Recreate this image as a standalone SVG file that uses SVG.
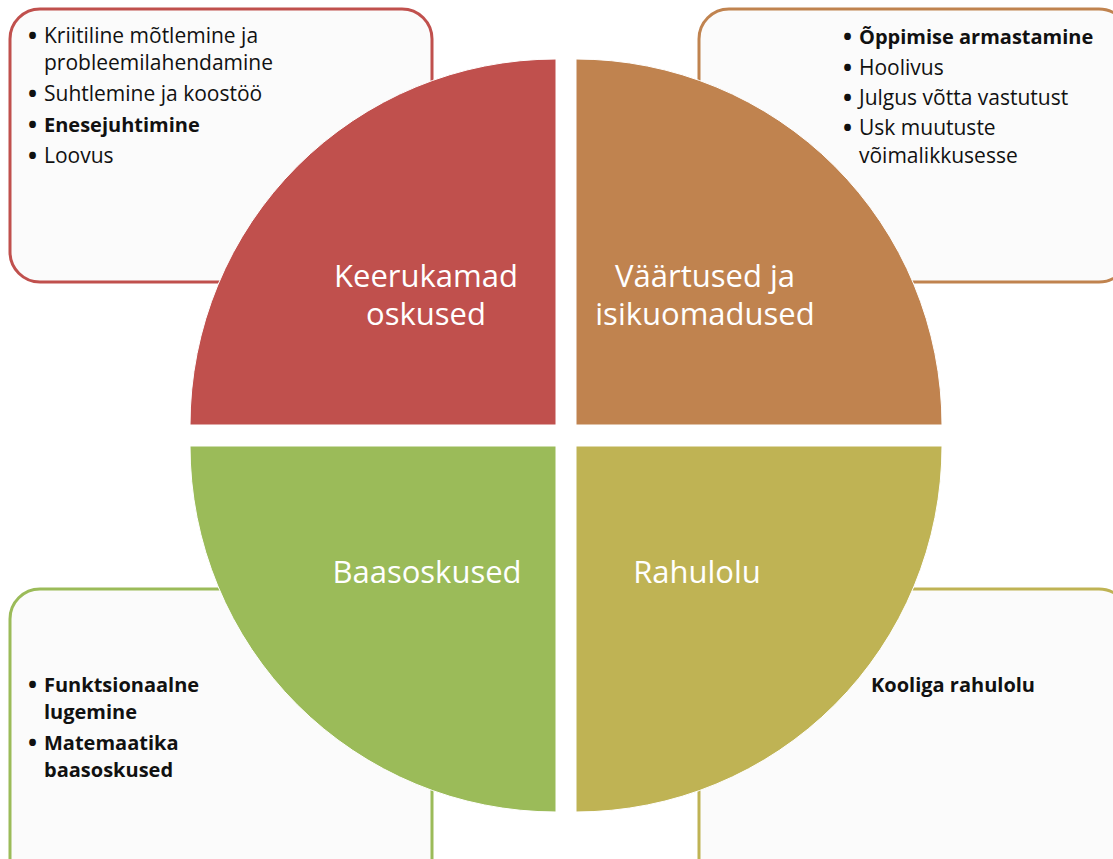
<svg xmlns="http://www.w3.org/2000/svg" width="1113" height="859" viewBox="0 0 1113 859">
<style>
.box{fill:#fbfbfb;stroke-width:3}
.t{font-family:"Open Sans","Liberation Sans",sans-serif;font-size:21px;fill:#111}
.b{font-weight:bold;font-size:20px}
.u{font-family:"Open Sans","Liberation Sans",sans-serif;font-size:24px;fill:#111;font-weight:bold}
.q{font-family:"Open Sans","Liberation Sans",sans-serif;font-size:31px;fill:#fff;text-anchor:middle}
.seg{stroke:#fff;stroke-width:1}
</style>
<rect width="1113" height="859" fill="#fff"/>
<g id="box-tl">
<rect class="box" x="10" y="9" width="422" height="273" rx="30" stroke="#c0504d"/>
<text class="u" x="28" y="44">•</text><text class="t" x="44" y="43">Kriitiline mõtlemine ja</text>
<text class="t" x="44" y="70">probleemilahendamine</text>
<text class="u" x="28" y="102">•</text><text class="t" x="44" y="101">Suhtlemine ja koostöö</text>
<text class="u" x="28" y="133">•</text><text class="t b" x="44" y="132">Enesejuhtimine</text>
<text class="u" x="28" y="164">•</text><text class="t" x="44" y="163">Loovus</text>
</g>
<g id="box-tr">
<rect class="box" x="699" y="9" width="430" height="273" rx="30" stroke="#c0834f"/>
<text class="u" x="843" y="45">•</text><text class="t b" x="859" y="44">Õppimise armastamine</text>
<text class="u" x="843" y="76">•</text><text class="t" x="859" y="75">Hoolivus</text>
<text class="u" x="843" y="106">•</text><text class="t" x="859" y="105">Julgus võtta vastutust</text>
<text class="u" x="843" y="136">•</text><text class="t" x="859" y="135">Usk muutuste</text>
<text class="t" x="859" y="163">võimalikkusesse</text>
</g>
<g id="box-bl">
<rect class="box" x="10" y="589" width="422" height="300" rx="30" stroke="#9bbb59"/>
<text class="u" x="28" y="693">•</text><text class="t b" x="44" y="692">Funktsionaalne</text>
<text class="t b" x="44" y="719">lugemine</text>
<text class="u" x="28" y="751">•</text><text class="t b" x="44" y="750">Matemaatika</text>
<text class="t b" x="44" y="777">baasoskused</text>
</g>
<g id="box-br">
<rect class="box" x="699" y="589" width="430" height="300" rx="30" stroke="#bfb354"/>
<text class="t b" x="871" y="692">Kooliga rahulolu</text>
</g>
<g id="q-red">
<path class="seg" d="M556,425 L190,425 A366,366 0 0 1 556,59 Z" fill="#c0504d"/>
<text class="q" x="426" y="287">Keerukamad</text>
<text class="q" x="426" y="325">oskused</text>
</g>
<g id="q-orange">
<path class="seg" d="M576,425 L576,59 A366,366 0 0 1 942,425 Z" fill="#c0834f"/>
<text class="q" x="705" y="287">Väärtused ja</text>
<text class="q" x="705" y="325">isikuomadused</text>
</g>
<g id="q-green">
<path class="seg" d="M556,446 L556,812 A366,366 0 0 1 190,446 Z" fill="#9bbb59"/>
<text class="q" x="427" y="583">Baasoskused</text>
</g>
<g id="q-olive">
<path class="seg" d="M576,446 L942,446 A366,366 0 0 1 576,812 Z" fill="#bfb354"/>
<text class="q" x="697" y="583">Rahulolu</text>
</g>
<g id="connectors"></g>
</svg>
